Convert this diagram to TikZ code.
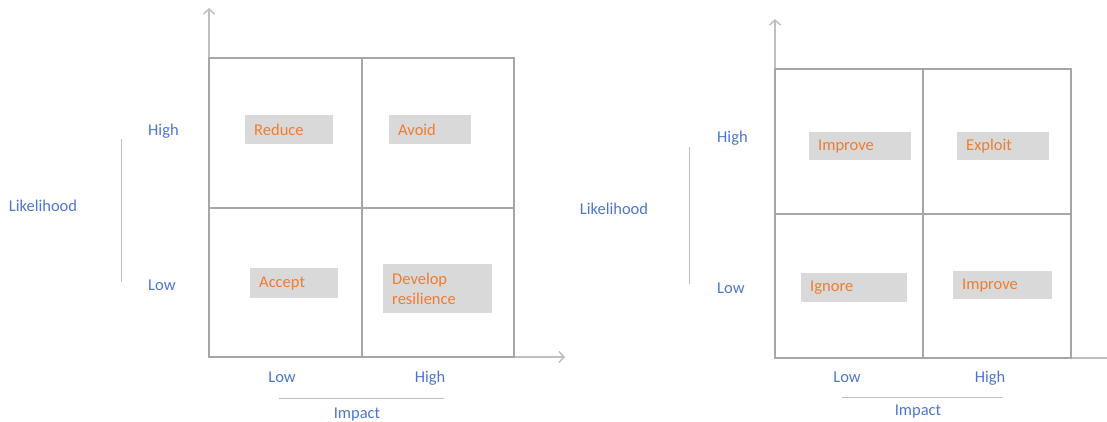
\documentclass[tikz,border=0pt]{standalone}
\usepackage{fontspec}
\setmainfont{Carlito}
\usepackage{xcolor}
\usepackage{tikz}
\usetikzlibrary{arrows.meta}
\definecolor{gridgray}{RGB}{166,166,166}
\definecolor{axisgray}{RGB}{191,191,191}
\definecolor{labelblue}{RGB}{76,118,206}
\definecolor{actionorange}{RGB}{237,125,49}
\definecolor{boxgray}{RGB}{217,217,217}
\tikzset{%
    grid line/.style={
            draw=gridgray,
            line width=2.5pt
        },
    axis line/.style={
            draw=axisgray,
            line width=1.5pt
        },
    scale line/.style={
            draw=axisgray,
            line width=1pt
        },
    axis text/.style={
            text=labelblue,
            inner sep=0pt,
            text height=10.6pt,
            text depth=0pt,
            font=\fontsize{16.5}{20}\selectfont
        },
    action/.style={
            fill=boxgray,
            text=actionorange,
            anchor=north west,
            inner xsep=9pt,
            inner ysep=0pt,
            align=left,
            font=\fontsize{16.5}{20}\selectfont
        },
}

\begin{document}
\begin{tikzpicture}[x=1pt, y=-1pt, >={Straight Barb[length=5pt,width=11pt]}]

        \useasboundingbox (0,0) rectangle (1107,421);

        % risks
        \coordinate (r-nw) at (209,58);
        \coordinate (r-se) at (514,357);
        \coordinate (r-sw) at (209,357);
        \coordinate (r-top) at (209,8);
        \coordinate (r-end) at (565,357);
        \draw [axis line, ->] (r-sw) -- (r-top);
        \draw [axis line, ->] (r-sw) -- (r-end);
        \draw [grid line] (r-nw) rectangle (r-se);
        \draw [grid line] (362,58) -- (362,357);
        \draw [grid line] (209,208) -- (514,208);

        \foreach \n/\x/\y/\w/\h/\t in {reduce/245/115/88/29/Reduce,
                avoid/389/115/82/29/Avoid,
                accept/250/268/88/30/Accept,
                develop/383/264/109/49/{Develop\\resilience}}
        \node [action, minimum height=\h, text width=\w-18] (\n) at (\x,\y) {\t};

        \node [axis text, anchor=west] (r-high) at (148,130) {High};
        \node [axis text, anchor=west] (r-low) at (148,285) {Low};
        \node [axis text] (r-likely) at (43,206) {Likelihood};
        \coordinate (r-vtop) at (121,139);
        \coordinate (r-vbot) at (121,282);
        \draw [scale line] (r-vtop) -- (r-vbot);

        \node [axis text] (r-xlow) at (282,377) {Low};
        \node [axis text] (r-xhigh) at (430,377) {High};
        \node [axis text] (r-impact) at (357,413) {Impact};
        \coordinate (r-hl) at (279,398);
        \coordinate (r-hr) at (444,398);
        \draw [scale line] (r-hl) -- (r-hr);

        % opportunities
        \coordinate (o-nw) at (775,69);
        \coordinate (o-se) at (1071,358);
        \coordinate (o-sw) at (775,358);
        \coordinate (o-top) at (775,19);
        \coordinate (o-end) at (1107,358);
        \draw [axis line, ->] (o-sw) -- (o-top);
        \draw [axis line] (o-sw) -- (o-end);
        \draw [grid line] (o-nw) rectangle (o-se);
        \draw [grid line] (923,69) -- (923,358);
        \draw [grid line] (775,214) -- (1071,214);

        \foreach \n/\x/\y/\w/\h/\t in {improve-a/809/132/102/28/Improve,
                exploit/957/132/92/28/Exploit,
                ignore/801/273/106/29/Ignore,
                improve-b/953/271/99/28/Improve}
        \node [action, minimum height=\h, text width=\w-18] (\n) at (\x,\y) {\t};

        \node [axis text, anchor=west] (o-high) at (717,137) {High};
        \node [axis text, anchor=west] (o-low) at (717,288) {Low};
        \node [axis text] (o-likely) at (614,209) {Likelihood};
        \coordinate (o-vtop) at (689,147);
        \coordinate (o-vbot) at (689,284);
        \draw [scale line] (o-vtop) -- (o-vbot);

        \node [axis text] (o-xlow) at (847,377) {Low};
        \node [axis text] (o-xhigh) at (990,377) {High};
        \node [axis text] (o-impact) at (918,410) {Impact};
        \coordinate (o-hl) at (842,397);
        \coordinate (o-hr) at (1003,397);
        \draw [scale line] (o-hl) -- (o-hr);

    \end{tikzpicture}
\end{document}
